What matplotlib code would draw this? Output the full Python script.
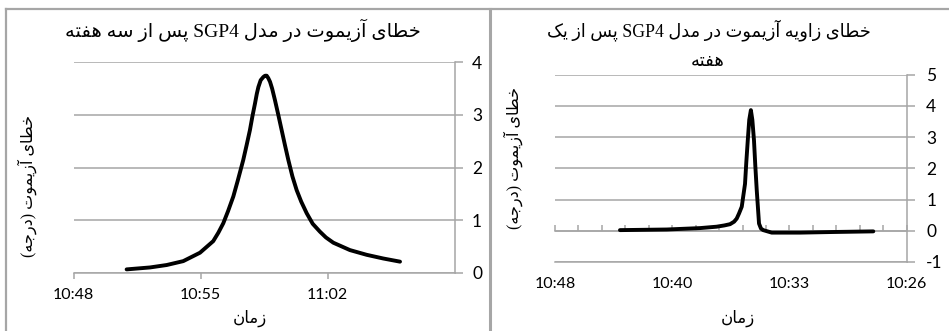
import matplotlib
matplotlib.use('Agg')
import matplotlib.pyplot as plt
from matplotlib.lines import Line2D
from matplotlib import font_manager
from matplotlib.ft2font import FT2Font

# ---------------- data (time in minutes after 10:00) ----------------
t_left = [51.0, 52.33, 53.27, 54.21, 55.16, 55.91, 56.2, 56.48, 56.75, 57.05,
          57.3, 57.61, 57.8, 57.99, 58.13, 58.28, 58.38, 58.47, 58.6, 58.75,
          58.85, 58.94, 59.03, 59.13, 59.25, 59.41, 59.6, 59.79, 59.98, 60.17,
          60.4, 60.64, 60.9, 61.21, 61.55, 61.96, 62.3, 62.72, 63.66, 64.61,
          65.55, 66.5]
err_left = [0.063, 0.10, 0.146, 0.22, 0.38, 0.60, 0.76, 0.94, 1.17, 1.45,
            1.75, 2.14, 2.42, 2.71, 2.97, 3.22, 3.40, 3.53, 3.66, 3.72,
            3.745, 3.745, 3.70, 3.63, 3.50, 3.28, 3.00, 2.71, 2.42, 2.14,
            1.83, 1.57, 1.35, 1.13, 0.93, 0.78, 0.67, 0.57, 0.43, 0.34,
            0.27, 0.21]

t_right = [44.01, 41.14, 39.09, 38.07, 37.6, 37.25, 37.0, 36.84, 36.7, 36.53,
           36.33, 36.25, 36.16, 36.07, 35.97, 35.88, 35.78, 35.7, 35.61, 35.47,
           35.35, 35.21, 34.69, 32.95, 30.91, 28.45]
err_right = [0.02, 0.04, 0.085, 0.13, 0.17, 0.21, 0.29, 0.39, 0.55, 0.77,
             1.5, 2.2, 2.9, 3.55, 3.86, 3.55, 2.9, 2.1, 1.3, 0.23,
             0.07, 0.02, -0.06, -0.06, -0.04, -0.02]

xticks_left = [48, 55.2, 62.4]
xticklabels_left = ['10:48', '10:55', '11:02']
yticks_left = [0, 1, 2, 3, 4]

xticks_right = [48, 40.8, 33.6, 26.4]
xticklabels_right = ['10:48', '10:40', '10:33', '10:26']
yticks_right = [-1, 0, 1, 2, 3, 4, 5]

title_left = 'خطای آزیموت در مدل SGP4 پس از سه هفته'
title_right_1 = 'خطای زاویه آزیموت در مدل SGP4 پس از یک'
title_right_2 = 'هفته'
ylabel_txt = 'خطای آزیموت (درجه)'
xlabel_txt = 'زمان'

# ---------------- simple Arabic/Persian shaping ----------------
_cmap = FT2Font(font_manager.findfont('DejaVu Sans')).get_charmap()

def _pick(cands):
    for c in cands:
        if ord(c) in _cmap:
            return c
    return cands[-1]

FORMS_RAW = {
    '\u0627': [('\uFE8D',), ('\uFE8E',), None, None],
    '\u0622': [('\uFE81',), ('\uFE82',), None, None],
    '\u062F': [('\uFEA9',), ('\uFEAA',), None, None],
    '\u0631': [('\uFEAD',), ('\uFEAE',), None, None],
    '\u0632': [('\uFEAF',), ('\uFEB0',), None, None],
    '\u0648': [('\uFEED',), ('\uFEEE',), None, None],
    '\u0628': [('\uFE8F',), ('\uFE90',), ('\uFE91',), ('\uFE92',)],
    '\u067E': [('\uFB56', '\uFE8F'), ('\uFB57', '\uFE90'), ('\uFB58', '\uFE91'), ('\uFB59', '\uFE92')],
    '\u062A': [('\uFE95',), ('\uFE96',), ('\uFE97',), ('\uFE98',)],
    '\u062C': [('\uFE9D',), ('\uFE9E',), ('\uFE9F',), ('\uFEA0',)],
    '\u062E': [('\uFEA5',), ('\uFEA6',), ('\uFEA7',), ('\uFEA8',)],
    '\u0633': [('\uFEB1',), ('\uFEB2',), ('\uFEB3',), ('\uFEB4',)],
    '\u0637': [('\uFEC1',), ('\uFEC2',), ('\uFEC3',), ('\uFEC4',)],
    '\u0641': [('\uFED1',), ('\uFED2',), ('\uFED3',), ('\uFED4',)],
    '\u06A9': [('\uFB8E', '\uFED9'), ('\uFB8F', '\uFEDA'), ('\uFB90', '\uFEDB'), ('\uFB91', '\uFEDC')],
    '\u0644': [('\uFEDD',), ('\uFEDE',), ('\uFEDF',), ('\uFEE0',)],
    '\u0645': [('\uFEE1',), ('\uFEE2',), ('\uFEE3',), ('\uFEE4',)],
    '\u0646': [('\uFEE5',), ('\uFEE6',), ('\uFEE7',), ('\uFEE8',)],
    '\u0647': [('\uFEE9',), ('\uFEEA',), ('\uFEEB',), ('\uFEEC',)],
    '\u06CC': [('\uFBFC', '\uFEEF'), ('\uFBFD', '\uFEF0'), ('\uFBFE', '\uFEF3'), ('\uFBFF', '\uFEF4')],
}
FORMS = {k: [(_pick(v) if v is not None else None) for v in vals]
         for k, vals in FORMS_RAW.items()}


def fa(s):
    chars = list(s)
    shaped = []
    for i, c in enumerate(chars):
        if c not in FORMS:
            shaped.append(c)
            continue
        prev = chars[i - 1] if i > 0 else None
        nxt = chars[i + 1] if i + 1 < len(chars) else None
        jp = prev in FORMS and FORMS[prev][2] is not None
        jn = FORMS[c][2] is not None and nxt in FORMS
        f = FORMS[c]
        if jp and jn:
            g = f[3]
        elif jp:
            g = f[1]
        elif jn:
            g = f[2]
        else:
            g = f[0]
        shaped.append(g)
    runs = []
    for ch in shaped:
        ltr = ch.isascii() and ch.isalnum()
        if runs and runs[-1][0] == ltr:
            runs[-1][1].append(ch)
        else:
            runs.append([ltr, [ch]])
    mirror = {'(': ')', ')': '('}
    out = ''
    for ltr, cs in reversed(runs):
        if ltr:
            out += ''.join(cs)
        else:
            out += ''.join(mirror.get(x, x) for x in reversed(cs))
    return out


FA_FAMILY = ['Liberation Serif', 'DejaVu Sans']
TICK_FAMILY = 'Lato'
GRAY = '#a6a6a6'

W, H = 949, 331
fig = plt.figure(figsize=(W / 100, H / 100), dpi=100)


def fx(px):
    return px / W


def fy(py):
    return 1 - py / H


# ---------------- left chart ----------------
axL = fig.add_axes([fx(73.7), fy(272.7), fx(454.7) - fx(73.7), fy(62.3) - fy(272.7)])
axL.plot(t_left, err_left, color='black', lw=2.8, solid_capstyle='round', solid_joinstyle='round')
axL.set_xlim(48, 69.6)
axL.set_ylim(0, 4)
axL.set_xticks(xticks_left)
axL.set_xticklabels(xticklabels_left, family=TICK_FAMILY, fontsize=11.5)
axL.set_yticks(yticks_left)
axL.yaxis.tick_right()
axL.set_yticklabels([str(v) for v in yticks_left], family=TICK_FAMILY, fontsize=12.5)
axL.grid(axis='y', color=GRAY, lw=1.1)
axL.set_axisbelow(True)
for s in ['top', 'left']:
    axL.spines[s].set_visible(False)
for s in ['right', 'bottom']:
    axL.spines[s].set_color(GRAY)
    axL.spines[s].set_linewidth(1.1)
axL.tick_params(axis='x', direction='out', length=4, color=GRAY, width=1.1, pad=7)
axL.tick_params(axis='y', direction='out', length=6, color=GRAY, width=1.1, pad=6.5)

# ---------------- right chart ----------------
axR = fig.add_axes([fx(555), fy(262), fx(906.7) - fx(555), fy(74.5) - fy(262)])
axR.plot(t_right, err_right, color='black', lw=2.8, solid_capstyle='round', solid_joinstyle='round')
axR.set_xlim(48, 26.4)
axR.set_ylim(-1, 5)
axR.set_xticks(xticks_right)
axR.set_xticklabels(xticklabels_right, family=TICK_FAMILY, fontsize=11.5)
axR.set_yticks(yticks_right)
axR.yaxis.tick_right()
axR.set_yticklabels([str(v) for v in yticks_right], family=TICK_FAMILY, fontsize=12.5)
axR.grid(axis='y', color=GRAY, lw=1.1)
axR.set_axisbelow(True)
for s in ['top', 'left']:
    axR.spines[s].set_visible(False)
for s in ['right', 'bottom']:
    axR.spines[s].set_color(GRAY)
    axR.spines[s].set_linewidth(1.1)
axR.tick_params(axis='x', length=0, pad=11)
axR.tick_params(axis='y', direction='out', length=6, color=GRAY, width=1.1, pad=8)

# zero axis with minor tick marks
sec = axR.secondary_xaxis(1 / 6)
minor_step = 1.44
sec.set_xticks([48 - minor_step * k for k in range(16)])
sec.tick_params(direction='in', length=4, color=GRAY, width=1.1, labelbottom=False, labeltop=False)
for s in sec.spines.values():
    s.set_color(GRAY)
    s.set_linewidth(1.1)

# ---------------- texts ----------------
fig.text(fx(243), fy(30), fa(title_left), family=FA_FAMILY, fontsize=14, ha='center', va='center')
fig.text(fx(709), fy(30), fa(title_right_1), family=FA_FAMILY, fontsize=12.8, ha='center', va='center')
fig.text(fx(708), fy(62), fa(title_right_2), family=FA_FAMILY, fontsize=13, ha='center', va='center')
fig.text(fx(27), fy(186), fa(ylabel_txt), family=FA_FAMILY, fontsize=11.5, rotation=90, ha='center', va='center')
fig.text(fx(513), fy(158), fa(ylabel_txt), family=FA_FAMILY, fontsize=11.5, rotation=90, ha='center', va='center')
fig.text(fx(250), fy(318), fa(xlabel_txt), family=FA_FAMILY, fontsize=12, ha='center', va='center')
fig.text(fx(738), fy(318), fa(xlabel_txt), family=FA_FAMILY, fontsize=12, ha='center', va='center')

# ---------------- panel borders ----------------
fig.add_artist(Line2D([fx(5.5), 1], [fy(8.5), fy(8.5)], transform=fig.transFigure, color=GRAY, lw=1.6))
fig.add_artist(Line2D([fx(5.5), fx(5.5)], [0, fy(8.5)], transform=fig.transFigure, color=GRAY, lw=1.6))
fig.add_artist(Line2D([fx(490), fx(490)], [0, fy(8.5)], transform=fig.transFigure, color=GRAY, lw=2.2))

fig.savefig('out.png', dpi=100)
